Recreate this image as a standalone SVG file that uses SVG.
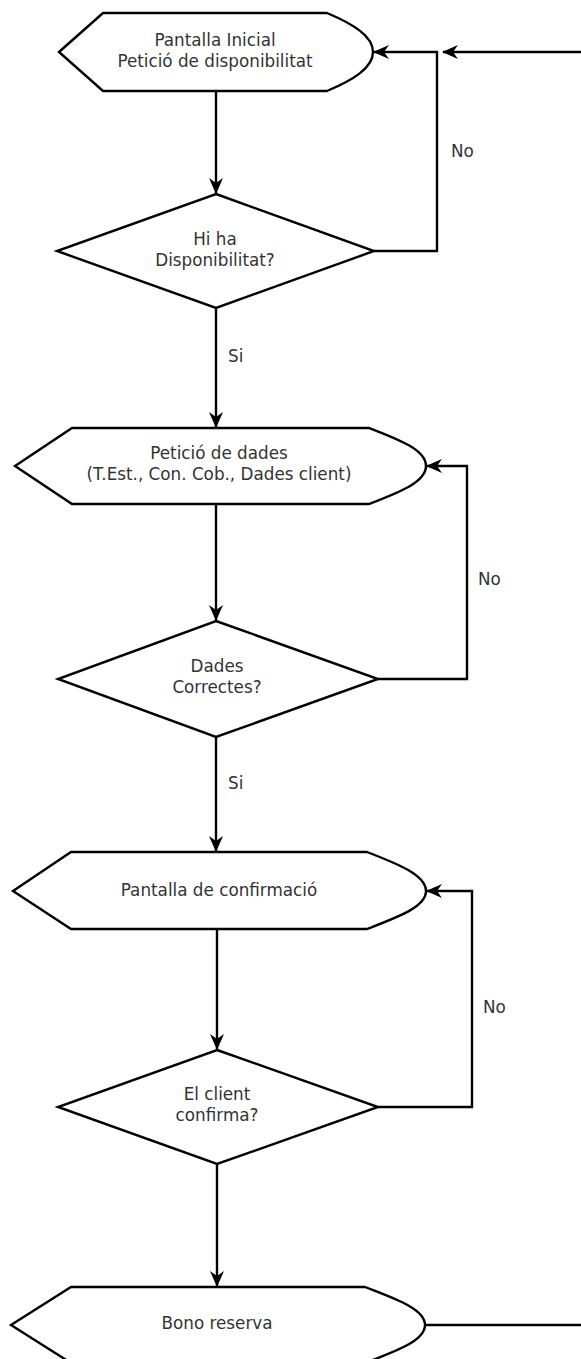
<svg xmlns="http://www.w3.org/2000/svg" width="581" height="1359" viewBox="0 0 581 1359">
  <style>
    .shape { fill: #ffffff; stroke: #000000; stroke-width: 2.4; stroke-linejoin: miter; }
    .edge { fill: none; stroke: #000000; stroke-width: 2.4; }
    .arrow { marker-end: url(#head); }
    text { font-family: "DejaVu Sans", "Liberation Sans", sans-serif; font-size: 16.8px; fill: #333333; }
    .c { text-anchor: middle; }
  </style>
  <defs>
    <!-- barbed filled arrowhead, tip at the path end -->
    <marker id="head" viewBox="0 0 16 14" refX="15" refY="7" markerWidth="16" markerHeight="14" markerUnits="userSpaceOnUse" orient="auto">
      <path d="M0,0 L16,7 L0,14 L5,7 Z" fill="#000000"/>
    </marker>
  </defs>
  <rect width="581" height="1359" fill="#ffffff"/>

  <!-- connectors -->
  <g id="connectors">
    <path class="edge arrow" d="M216,91 L216,193"/>
    <path class="edge arrow" d="M374,251 L437,251 L437,52 L374,52"/>
    <path class="edge arrow" d="M581,52 L443,52"/>
    <path class="edge arrow" d="M216,308 L216,427"/>
    <path class="edge arrow" d="M216,505 L216,620"/>
    <path class="edge arrow" d="M378,679 L467,679 L467,466 L427,466"/>
    <path class="edge arrow" d="M216,737 L216,851"/>
    <path class="edge arrow" d="M217,929 L217,1049"/>
    <path class="edge arrow" d="M378,1107 L472,1107 L472,891 L427,891"/>
    <path class="edge arrow" d="M217,1164 L217,1286"/>
    <path class="edge" d="M425,1325 L581,1325"/>
    <text x="451" y="157">No</text>
    <text x="228" y="362">Si</text>
    <text x="478" y="585">No</text>
    <text x="228" y="789">Si</text>
    <text x="483" y="1013">No</text>
  </g>

  <!-- nodes -->
  <g id="inici">
    <path class="shape" d="M59,52 L103,13 L327,13 C353,24 373,36 373,52 C373,68 353,80 327,91 L103,91 Z"/>
    <text class="c" x="215" y="46">Pantalla Inicial</text>
    <text class="c" x="215" y="67">Petició de disponibilitat</text>
  </g>
  <g id="disponibilitat">
    <path class="shape" d="M216,194 L374,251 L216,308 L57,251 Z"/>
    <text class="c" x="215" y="245">Hi ha</text>
    <text class="c" x="215" y="266">Disponibilitat?</text>
  </g>
  <g id="peticio-dades">
    <path class="shape" d="M15,466 L72,428 L369,428 C400,440 426,450 426,466 C426,482 400,492 369,504 L72,504 Z"/>
    <text class="c" x="219" y="459">Petició de dades</text>
    <text class="c" x="219" y="480">(T.Est., Con. Cob., Dades client)</text>
  </g>
  <g id="dades-correctes">
    <path class="shape" d="M216,621 L378,679 L216,737 L58,679 Z"/>
    <text class="c" x="217" y="672">Dades</text>
    <text class="c" x="217" y="693">Correctes?</text>
  </g>
  <g id="confirmacio">
    <path class="shape" d="M13,891 L71,852 L367,852 C398,864 426,875 426,891 C426,907 398,917 367,929 L71,929 Z"/>
    <text class="c" x="219" y="896">Pantalla de confirmació</text>
  </g>
  <g id="client-confirma">
    <path class="shape" d="M217,1050 L378,1107 L217,1164 L58,1107 Z"/>
    <text class="c" x="217" y="1100">El client</text>
    <text class="c" x="217" y="1121">confirma?</text>
  </g>
  <g id="bono">
    <path class="shape" d="M11,1325 L71,1287 L365,1287 C396,1299 425,1309 425,1325 C425,1341 396,1351 365,1363 L71,1363 Z"/>
    <text class="c" x="217" y="1329">Bono reserva</text>
  </g>
</svg>
